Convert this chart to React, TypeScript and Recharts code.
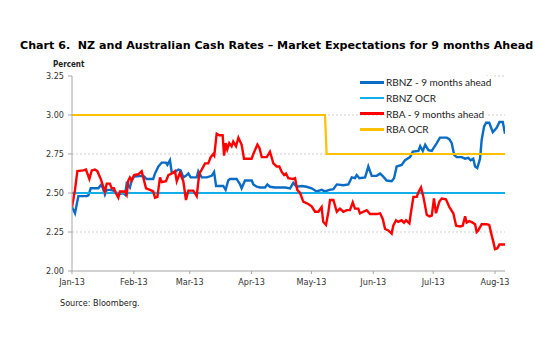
import React from "react";
import {
  LineChart,
  Line,
  XAxis,
  YAxis,
  CartesianGrid,
  ReferenceLine,
} from "recharts";

// x = days since 1 Jan 2013
const monthTicks = [0, 31, 59, 90, 120, 151, 181, 212];
const monthLabels = ["Jan-13", "Feb-13", "Mar-13", "Apr-13", "May-13", "Jun-13", "Jul-13", "Aug-13"];
const yTicks = [2.0, 2.25, 2.5, 2.75, 3.0, 3.25];

const rbnz9m: [number, number][] = [
  [0, 2.41], [1.5, 2.37], [3.2, 2.48], [7.4, 2.48], [8.2, 2.485], [9.4, 2.53], [13.2, 2.53],
  [14.4, 2.55], [15.4, 2.535], [16.5, 2.49], [17.4, 2.52], [19, 2.52], [20.7, 2.515], [22, 2.5],
  [23.2, 2.49], [25.7, 2.5], [26.6, 2.49], [27.4, 2.56], [29, 2.535], [29.9, 2.58], [31.1, 2.605],
  [35.7, 2.61], [37.4, 2.59], [40.7, 2.59], [41.6, 2.625], [43.3, 2.67], [45, 2.695], [47.1, 2.695],
  [47.8, 2.68], [49.1, 2.71], [50, 2.63], [51.6, 2.635], [53.3, 2.65], [54.5, 2.645], [55.8, 2.6],
  [57.1, 2.61], [58.3, 2.625], [59.5, 2.6], [62.5, 2.6], [63.3, 2.64], [65, 2.6], [67.5, 2.6],
  [70, 2.61], [71.2, 2.635], [72.2, 2.545], [75.8, 2.545], [77, 2.52], [78.3, 2.58], [79.2, 2.59],
  [82.5, 2.59], [84.2, 2.555], [85, 2.53], [86.7, 2.58], [90.1, 2.58], [90.9, 2.555], [92.6, 2.54],
  [94.2, 2.535], [96.7, 2.535], [97.9, 2.555], [99.2, 2.54], [101.7, 2.535], [106.8, 2.535],
  [109.3, 2.53], [110.9, 2.565], [112.6, 2.54], [115.1, 2.545], [117.6, 2.54], [120.1, 2.53],
  [122.6, 2.51], [125.1, 2.52], [126.8, 2.51], [129, 2.52], [131, 2.525], [132.7, 2.555], [136, 2.55],
  [138.5, 2.555], [140.2, 2.6], [141.8, 2.595], [142.7, 2.615], [144, 2.595], [146.9, 2.6],
  [148.5, 2.67], [150.2, 2.61], [152.7, 2.61], [154.4, 2.625], [156, 2.605], [157.7, 2.58],
  [160.2, 2.575], [161.4, 2.595], [162.7, 2.67], [165.2, 2.68], [166.9, 2.71], [169.4, 2.73],
  [170.8, 2.765], [173.6, 2.77], [174.5, 2.8], [175.8, 2.77], [177, 2.81], [178.6, 2.775],
  [180.3, 2.77], [182.8, 2.82], [184.4, 2.855], [187.8, 2.855], [189.1, 2.845], [190.3, 2.82],
  [191.5, 2.745], [192.8, 2.73], [195.3, 2.73], [197, 2.72], [198.6, 2.725], [199.8, 2.71],
  [201.1, 2.72], [202, 2.67], [203.1, 2.66], [204.5, 2.72], [205.3, 2.84], [206.5, 2.925],
  [207.5, 2.95], [209.1, 2.95], [210.9, 2.89], [212.9, 2.92], [214.2, 2.955], [215.9, 2.955],
  [217, 2.88],
];

const rba9m: [number, number][] = [
  [0, 2.41], [1.5, 2.52], [2.7, 2.64], [5.7, 2.645], [7, 2.65], [8.7, 2.59], [9.9, 2.645],
  [11.5, 2.65], [12.7, 2.64], [14.4, 2.59], [15.7, 2.54], [16.5, 2.51], [17.4, 2.56], [19, 2.56],
  [19.9, 2.53], [21, 2.53], [22, 2.5], [23.2, 2.47], [24, 2.51], [26.6, 2.51], [27.4, 2.49],
  [28.2, 2.58], [29, 2.6], [29.9, 2.58], [31.1, 2.615], [33.2, 2.62], [34.9, 2.64], [35.7, 2.6],
  [37.1, 2.53], [39.1, 2.52], [40.7, 2.51], [41.6, 2.47], [42.8, 2.475], [44.1, 2.6], [45, 2.57],
  [47.1, 2.575], [48.3, 2.615], [50, 2.625], [51.6, 2.64], [52.5, 2.575], [54.1, 2.63],
  [55.8, 2.575], [57.1, 2.455], [58.3, 2.515], [60.8, 2.515], [62.5, 2.48], [63.8, 2.625],
  [65, 2.65], [66.7, 2.69], [68.3, 2.69], [69.5, 2.73], [70.8, 2.75], [71.3, 2.74], [72.5, 2.88],
  [73.8, 2.87], [75.5, 2.87], [76.2, 2.74], [77, 2.82], [77.8, 2.78], [78.8, 2.82], [80, 2.8],
  [80.8, 2.83], [82.2, 2.8], [83.4, 2.855], [85, 2.81], [86.2, 2.72], [90, 2.72], [90.9, 2.75],
  [92.9, 2.81], [93.9, 2.79], [95.1, 2.73], [97.6, 2.73], [99.2, 2.765], [100.9, 2.69],
  [102.6, 2.67], [103.9, 2.67], [105.1, 2.635], [106.3, 2.615], [107.3, 2.625], [108.4, 2.595],
  [110.9, 2.59], [111.8, 2.595], [112.9, 2.52], [114.3, 2.5], [115.9, 2.445], [118.4, 2.43],
  [120.1, 2.415], [121.8, 2.38], [123.5, 2.38], [125.1, 2.41], [125.9, 2.315], [127.3, 2.295],
  [128.5, 2.38], [129.3, 2.455], [131, 2.455], [132.7, 2.38], [134.3, 2.4], [136, 2.38],
  [137.7, 2.39], [139.3, 2.39], [140.7, 2.44], [141.8, 2.4], [143.5, 2.4], [144.3, 2.37],
  [147.7, 2.39], [149.4, 2.365], [152.7, 2.365], [154.4, 2.37], [155.7, 2.335], [156.9, 2.27],
  [158.5, 2.26], [160.2, 2.24], [161, 2.29], [162.4, 2.325], [163.5, 2.315], [165.2, 2.325],
  [166.4, 2.31], [167.4, 2.325], [169.1, 2.305], [169.8, 2.37], [171.1, 2.475], [172.8, 2.475],
  [173.6, 2.505], [174.9, 2.535], [176.1, 2.475], [177.8, 2.36], [179.1, 2.35], [180.3, 2.355],
  [181.4, 2.465], [182.4, 2.37], [184.1, 2.445], [185.3, 2.465], [187.4, 2.46], [189.1, 2.41],
  [191.1, 2.37], [192.5, 2.29], [194.5, 2.285], [195.8, 2.29], [197, 2.35], [197.8, 2.31],
  [199.1, 2.32], [200.8, 2.31], [202, 2.3], [202.8, 2.25], [203.6, 2.26], [205.3, 2.3],
  [207.8, 2.3], [209.1, 2.295], [210.3, 2.23], [211.1, 2.19], [212, 2.14], [213.2, 2.145],
  [214.2, 2.17], [217, 2.17],
];

const rbnzOcr: [number, number][] = [[0, 2.5], [217, 2.5]];
const rbaOcr: [number, number][] = [[0, 3.0], [126.8, 3.0], [127.6, 2.75], [217, 2.75]];

const toRows = (s: [number, number][]) => s.map(([d, v]) => ({ d, v }));

const seriesNames = ["RBNZ - 9 months ahead", "RBNZ OCR", "RBA - 9 months ahead", "RBA OCR"];
const seriesColors = ["#0A6CC4", "#12AEEA", "#FF0000", "#FFC000"];

const tickFont = { fontFamily: "'DejaVu Sans Condensed', 'DejaVu Sans', sans-serif", fontSize: 9, fill: "#333" };

const LegendBox = () => (
  <div style={{ position: "absolute", left: 360, top: 74.5, fontFamily: "Lato, 'Open Sans', sans-serif", fontSize: 10, color: "#222" }}>
    {seriesNames.map((n, i) => (
      <div key={n} style={{ display: "flex", alignItems: "center", height: 15.7 }}>
        <div style={{ width: 24, height: 2.5, background: seriesColors[i], marginRight: 2 }} />
        <span style={{ whiteSpace: "nowrap", background: "#fff", lineHeight: "12px", paddingRight: 2 }}>{n}</span>
      </div>
    ))}
  </div>
);

export default function App() {
  return (
    <div style={{ position: "absolute", left: 0, top: 0, width: 550, height: 350, background: "#fff" }}>
      <div
        style={{
          position: "absolute",
          left: 20,
          top: 39,
          fontFamily: "'DejaVu Sans', Verdana, sans-serif",
          fontWeight: "bold",
          fontSize: 11.1,
          whiteSpace: "nowrap",
          color: "#000",
        }}
      >
        Chart 6.&nbsp; NZ and Australian Cash Rates – Market Expectations for 9 months Ahead
      </div>
      <div
        style={{
          position: "absolute",
          left: 53,
          top: 60,
          fontFamily: "'DejaVu Sans Condensed', 'DejaVu Sans', sans-serif",
          fontWeight: "bold",
          fontSize: 8,
          color: "#222",
        }}
      >
        Percent
      </div>
      <div
        style={{
          position: "absolute",
          left: 60,
          top: 298,
          fontFamily: "'DejaVu Sans Condensed', 'DejaVu Sans', sans-serif",
          fontSize: 9,
          color: "#222",
        }}
      >
        Source: Bloomberg.
      </div>
      <LineChart width={550} height={350} margin={{ top: 76, right: 45, bottom: 49, left: 32 }} style={{ position: "absolute", left: 0, top: 0 }}>
        <CartesianGrid vertical={false} horizontalValues={[2.25, 2.5, 2.75, 3.0]} stroke="#CFCFCF" strokeDasharray="2 2" />
        <ReferenceLine segment={[{ x: 207.5, y: 3.25 }, { x: 217, y: 3.25 }]} stroke="#CFCFCF" strokeDasharray="2 2" />
        <XAxis
          type="number"
          dataKey="d"
          domain={[0, 217]}
          ticks={monthTicks}
          tickFormatter={(v: number) => monthLabels[monthTicks.indexOf(v)] ?? ""}
          interval={0}
          allowDataOverflow
          height={30}
          tick={tickFont}
          tickSize={3}
          tickMargin={5}
          axisLine={{ stroke: "#A6A6A6" }}
          tickLine={{ stroke: "#A6A6A6" }}
        />
        <YAxis
          type="number"
          domain={[2, 3.25]}
          ticks={yTicks}
          interval={0}
          width={40}
          tickFormatter={(v: number) => v.toFixed(2)}
          tick={tickFont}
          tickSize={4}
          tickMargin={4}
          axisLine={{ stroke: "#A6A6A6" }}
          tickLine={{ stroke: "#A6A6A6" }}
        />
        <Line data={toRows(rbnz9m)} dataKey="v" name={seriesNames[0]} stroke={seriesColors[0]} strokeWidth={2.4} dot={false} isAnimationActive={false} />
        <Line data={toRows(rbnzOcr)} dataKey="v" name={seriesNames[1]} stroke={seriesColors[1]} strokeWidth={2.2} dot={false} isAnimationActive={false} />
        <Line data={toRows(rba9m)} dataKey="v" name={seriesNames[2]} stroke={seriesColors[2]} strokeWidth={2.4} dot={false} isAnimationActive={false} />
        <Line data={toRows(rbaOcr)} dataKey="v" name={seriesNames[3]} stroke={seriesColors[3]} strokeWidth={2.2} dot={false} isAnimationActive={false} />
      </LineChart>
      <LegendBox />
    </div>
  );
}
